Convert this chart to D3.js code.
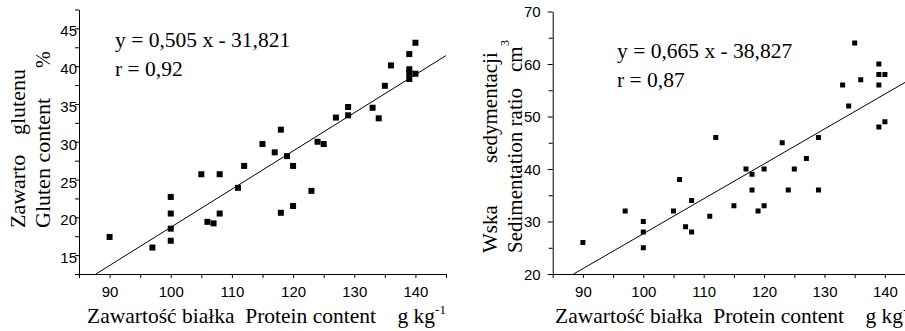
<!DOCTYPE html>
<html>
<head>
<meta charset="utf-8">
<script src="https://cdn.jsdelivr.net/npm/d3@7"></script>
<style>
  html, body { margin: 0; padding: 0; background: #fff; }
  svg { display: block; }
</style>
</head>
<body>
<div id="chart"></div>
<script>
// left panel: protein vs gluten content
const proteinA = [90, 97, 100, 100, 100, 100, 105, 106, 107, 108, 108, 111, 112, 115, 117, 118, 118, 119,
  120, 120, 123, 124, 125, 127, 129, 129, 133, 134, 135, 136, 139, 139, 139, 139, 140, 140];
const glutenA = [17.4, 16.0, 22.7, 20.5, 18.5, 16.9, 25.7, 19.4, 19.2, 25.7, 20.5, 23.9, 26.8, 29.7, 28.6, 31.6, 20.6, 28.1,
  26.8, 21.5, 23.5, 30.0, 29.7, 33.2, 34.6, 33.5, 34.5, 33.1, 37.4, 40.1, 41.6, 39.6, 39.1, 38.3, 43.1, 39.0];
const fitA = { slope: 0.505, intercept: -31.821 };
const eqA = ["y = 0,505 x - 31,821", "r = 0,92"];

// right panel: protein vs sedimentation ratio
const proteinB = [90, 97, 100, 100, 100, 105, 106, 107, 108, 108, 111, 112, 115, 117, 118, 118, 119, 120,
  120, 123, 124, 125, 127, 129, 129, 133, 134, 135, 136, 139, 139, 139, 139, 140, 140];
const sedB = [26, 32, 30, 28, 25, 32, 38, 29, 34, 28, 31, 46, 33, 40, 39, 36, 32, 40,
  33, 45, 36, 40, 42, 46, 36, 56, 52, 64, 57, 60, 58, 56, 48, 58, 49];
const fitB = { slope: 0.665, intercept: -38.827 };
const eqB = ["y = 0,665 x - 38,827", "r = 0,87"];

const xTicks = [90, 100, 110, 120, 130, 140];
const xMinor = [85, 95, 105, 115, 125, 135, 145];
const yTicksA = [15, 20, 25, 30, 35, 40, 45];
const yMinorA = [12.5, 17.5, 22.5, 27.5, 32.5, 37.5, 42.5, 47.5];
const yTicksB = [20, 30, 40, 50, 60, 70];
const yMinorB = [25, 35, 45, 55, 65];

const xTitle = "Zawartość białka  Protein content    g kg";

const SERIF = "'Liberation Serif', 'Times New Roman', serif";
const SANS = "'Liberation Sans', Arial, sans-serif";

const width = 905, height = 331;
const svg = d3.select("#chart").append("svg")
  .attr("width", width)
  .attr("height", height);

function serifText(sel, size) {
  return sel.style("font-family", SERIF)
    .style("font-size", size + "px")
    .style("white-space", "pre")
    .attr("fill", "#000");
}

function rotText(x, y, str, size) {
  return serifText(svg.append("text"), size)
    .attr("transform", `translate(${x},${y}) rotate(-90)`)
    .text(str);
}

// d3 axis writes font attrs on call, so override afterwards
const sansTicks = a => a.attr("font-family", SANS).attr("font-size", 15);

function panel(cfg) {
  const x = d3.scaleLinear().domain([85, 145]).range(cfg.xRange);
  const y = d3.scaleLinear().domain(cfg.yDomain).range([274, cfg.yTop]);

  const g = svg.append("g");

  // x axis
  g.append("g")
    .attr("transform", "translate(0,274)")
    .call(d3.axisBottom(x).tickValues(xMinor).tickSize(4).tickFormat(""))
    .call(a => a.select(".domain").remove());
  g.append("g")
    .attr("transform", "translate(0,274)")
    .call(d3.axisBottom(x).tickValues(xTicks).tickSize(4).tickPadding(8).tickSizeOuter(0))
    .call(sansTicks)
    .call(a => a.select(".domain").attr("stroke-width", 1.2));

  // y axis
  const yx = cfg.xRange[0];
  g.append("g")
    .attr("transform", `translate(${yx},0)`)
    .call(d3.axisLeft(y).tickValues(cfg.yMinor).tickSize(4).tickFormat(""))
    .call(a => a.select(".domain").remove());
  g.append("g")
    .attr("transform", `translate(${yx},0)`)
    .call(d3.axisLeft(y).tickValues(cfg.yTicks).tickSize(cfg.yTickSize).tickPadding(cfg.yPad).tickSizeOuter(0))
    .call(sansTicks)
    .call(a => a.selectAll(".tick text").attr("dy", cfg.yDy));

  // regression line
  const f = cfg.fit;
  const x0 = Math.max(85, (cfg.yDomain[0] - f.intercept) / f.slope);
  const lineData = [x0, 145].map(v => [v, f.slope * v + f.intercept]);
  g.append("path")
    .attr("d", d3.line().x(d => x(d[0])).y(d => y(d[1]))(lineData))
    .attr("fill", "none")
    .attr("stroke", "#000")
    .attr("stroke-width", 1);

  // points
  const s = cfg.size;
  g.selectAll("rect.pt")
    .data(cfg.xs.map((v, i) => [v, cfg.ys[i]]))
    .join("rect")
    .attr("class", "pt")
    .attr("x", d => x(d[0]) - s / 2)
    .attr("y", d => y(d[1]) - s / 2)
    .attr("width", s)
    .attr("height", s)
    .attr("fill", "#000");

  // equation
  cfg.eq.forEach((t, i) => {
    serifText(g.append("text"), 21.5)
      .attr("x", cfg.eqX)
      .attr("y", cfg.eqY[i])
      .text(t);
  });

  // x title
  const xt = serifText(g.append("text"), 21.5)
    .attr("x", cfg.xTitleX)
    .attr("y", 323)
    .text(xTitle);
  xt.append("tspan")
    .attr("dy", -9)
    .style("font-size", "13px")
    .text("-1");
}

panel({
  xRange: [79, 446], yDomain: [12.5, 47.5], yTop: 9.5,
  yTicks: yTicksA, yMinor: yMinorA, yTickSize: 4, yPad: -2, yDy: "0.5em",
  xs: proteinA, ys: glutenA, fit: fitA, size: 6,
  eq: eqA, eqX: 115, eqY: [47, 76], xTitleX: 87
});

panel({
  xRange: [552.7, 915.1], yDomain: [20, 70], yTop: 11.5,
  yTicks: yTicksB, yMinor: yMinorB, yTickSize: 5, yPad: 7, yDy: "0.36em",
  xs: proteinB, ys: sedB, fit: fitB, size: 5,
  eq: eqB, eqX: 617, eqY: [58, 87], xTitleX: 555
});

// y titles (the source drops some Polish glyphs, kept as shown)
rotText(25, 228, "Zawarto", 22);
rotText(25, 135, "glutenu", 22);
rotText(50, 228, "Gluten content", 22);
rotText(50, 68, "%", 20);

rotText(497, 253, "Wska", 21);
rotText(497, 163, "sedymentacji", 21);
rotText(522, 253, "Sedimentation ratio", 21);
rotText(522, 72, "cm", 21);
rotText(509, 46, "3", 12);
</script>
</body>
</html>
